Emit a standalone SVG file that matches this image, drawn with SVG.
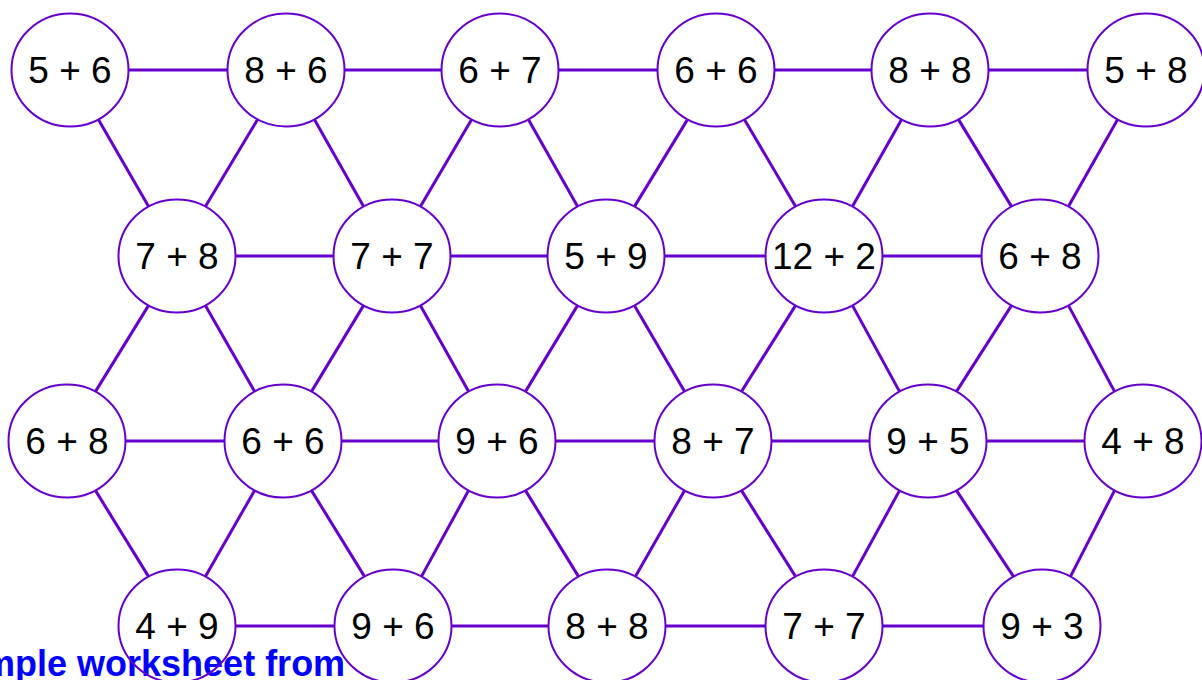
<svg xmlns="http://www.w3.org/2000/svg" width="1202" height="680" viewBox="0 0 1202 680">
<style>
.n ellipse{fill:none;stroke:#6600cc;stroke-width:2}
.n text{font-family:"Liberation Sans",Arial,sans-serif;font-size:37px;fill:#000;text-anchor:middle}
#edges line{stroke:#6600cc;stroke-width:3}
.cap{font-family:"Liberation Sans",Arial,sans-serif;font-size:36px;font-weight:bold;fill:#0000ff}
</style>
<rect width="1202" height="680" fill="#fff"/>
<text class="cap" x="-61" y="676">Sample worksheet from</text>
<g id="edges">
<line x1="128.5" y1="70" x2="227.5" y2="70"/><line x1="344.5" y1="70" x2="441.5" y2="70"/><line x1="558.5" y1="70" x2="657.5" y2="70"/><line x1="774.5" y1="70" x2="871.5" y2="70"/><line x1="988.5" y1="70" x2="1087.5" y2="70"/>
<line x1="235.5" y1="256" x2="333.5" y2="256"/><line x1="450.5" y1="256" x2="547.5" y2="256"/><line x1="664.5" y1="256" x2="765.5" y2="256"/><line x1="882.5" y1="256" x2="981.5" y2="256"/>
<line x1="125.5" y1="441" x2="224.5" y2="441"/><line x1="341.5" y1="441" x2="438.5" y2="441"/><line x1="555.5" y1="441" x2="654.5" y2="441"/><line x1="771.5" y1="441" x2="869.5" y2="441"/><line x1="986.5" y1="441" x2="1084.5" y2="441"/>
<line x1="235.5" y1="626" x2="334.5" y2="626"/><line x1="451.5" y1="626" x2="548.5" y2="626"/><line x1="665.5" y1="626" x2="765.5" y2="626"/><line x1="882.5" y1="626" x2="983.5" y2="626"/>
<line x1="98.4" y1="119.4" x2="148.6" y2="206.6"/><line x1="257.6" y1="119.4" x2="205.4" y2="206.6"/><line x1="314.4" y1="119.4" x2="363.6" y2="206.6"/><line x1="471.6" y1="119.4" x2="420.4" y2="206.6"/><line x1="528.4" y1="119.4" x2="577.6" y2="206.6"/><line x1="687.6" y1="119.4" x2="634.4" y2="206.6"/><line x1="744.4" y1="119.4" x2="795.6" y2="206.6"/><line x1="901.6" y1="119.4" x2="852.4" y2="206.6"/><line x1="958.4" y1="119.4" x2="1011.6" y2="206.6"/><line x1="1117.6" y1="119.4" x2="1068.4" y2="206.6"/>
<line x1="148.6" y1="305.4" x2="95.4" y2="391.6"/><line x1="205.4" y1="305.4" x2="254.6" y2="391.6"/><line x1="363.6" y1="305.4" x2="311.4" y2="391.6"/><line x1="420.4" y1="305.4" x2="468.6" y2="391.6"/><line x1="577.6" y1="305.4" x2="525.4" y2="391.6"/><line x1="634.4" y1="305.4" x2="684.6" y2="391.6"/><line x1="795.6" y1="305.4" x2="741.4" y2="391.6"/><line x1="852.4" y1="305.4" x2="899.6" y2="391.6"/><line x1="1011.6" y1="305.4" x2="956.4" y2="391.6"/><line x1="1068.4" y1="305.4" x2="1114.6" y2="391.6"/>
<line x1="95.4" y1="490.4" x2="148.6" y2="576.6"/><line x1="254.6" y1="490.4" x2="205.4" y2="576.6"/><line x1="311.4" y1="490.4" x2="364.6" y2="576.6"/><line x1="468.6" y1="490.4" x2="421.4" y2="576.6"/><line x1="525.4" y1="490.4" x2="578.6" y2="576.6"/><line x1="684.6" y1="490.4" x2="635.4" y2="576.6"/><line x1="741.4" y1="490.4" x2="795.6" y2="576.6"/><line x1="899.6" y1="490.4" x2="852.4" y2="576.6"/><line x1="956.4" y1="490.4" x2="1013.6" y2="576.6"/><line x1="1114.6" y1="490.4" x2="1070.4" y2="576.6"/>
</g>
<g id="a0" class="n"><ellipse cx="70" cy="70" rx="58.5" ry="56.5"/><text x="70" y="83">5 + 6</text></g>
<g id="a1" class="n"><ellipse cx="286" cy="70" rx="58.5" ry="56.5"/><text x="286" y="83">8 + 6</text></g>
<g id="a2" class="n"><ellipse cx="500" cy="70" rx="58.5" ry="56.5"/><text x="500" y="83">6 + 7</text></g>
<g id="a3" class="n"><ellipse cx="716" cy="70" rx="58.5" ry="56.5"/><text x="716" y="83">6 + 6</text></g>
<g id="a4" class="n"><ellipse cx="930" cy="70" rx="58.5" ry="56.5"/><text x="930" y="83">8 + 8</text></g>
<g id="a5" class="n"><ellipse cx="1146" cy="70" rx="58.5" ry="56.5"/><text x="1146" y="83">5 + 8</text></g>
<g id="b0" class="n"><ellipse cx="177" cy="256" rx="58.5" ry="56.5"/><text x="177" y="269">7 + 8</text></g>
<g id="b1" class="n"><ellipse cx="392" cy="256" rx="58.5" ry="56.5"/><text x="392" y="269">7 + 7</text></g>
<g id="b2" class="n"><ellipse cx="606" cy="256" rx="58.5" ry="56.5"/><text x="606" y="269">5 + 9</text></g>
<g id="b3" class="n"><ellipse cx="824" cy="256" rx="58.5" ry="56.5"/><text x="824" y="269">12 + 2</text></g>
<g id="b4" class="n"><ellipse cx="1040" cy="256" rx="58.5" ry="56.5"/><text x="1040" y="269">6 + 8</text></g>
<g id="c0" class="n"><ellipse cx="67" cy="441" rx="58.5" ry="56.5"/><text x="67" y="454">6 + 8</text></g>
<g id="c1" class="n"><ellipse cx="283" cy="441" rx="58.5" ry="56.5"/><text x="283" y="454">6 + 6</text></g>
<g id="c2" class="n"><ellipse cx="497" cy="441" rx="58.5" ry="56.5"/><text x="497" y="454">9 + 6</text></g>
<g id="c3" class="n"><ellipse cx="713" cy="441" rx="58.5" ry="56.5"/><text x="713" y="454">8 + 7</text></g>
<g id="c4" class="n"><ellipse cx="928" cy="441" rx="58.5" ry="56.5"/><text x="928" y="454">9 + 5</text></g>
<g id="c5" class="n"><ellipse cx="1143" cy="441" rx="58.5" ry="56.5"/><text x="1143" y="454">4 + 8</text></g>
<g id="d0" class="n"><ellipse cx="177" cy="626" rx="58.5" ry="56.5"/><text x="177" y="639">4 + 9</text></g>
<g id="d1" class="n"><ellipse cx="393" cy="626" rx="58.5" ry="56.5"/><text x="393" y="639">9 + 6</text></g>
<g id="d2" class="n"><ellipse cx="607" cy="626" rx="58.5" ry="56.5"/><text x="607" y="639">8 + 8</text></g>
<g id="d3" class="n"><ellipse cx="824" cy="626" rx="58.5" ry="56.5"/><text x="824" y="639">7 + 7</text></g>
<g id="d4" class="n"><ellipse cx="1042" cy="626" rx="58.5" ry="56.5"/><text x="1042" y="639">9 + 3</text></g>
</svg>
